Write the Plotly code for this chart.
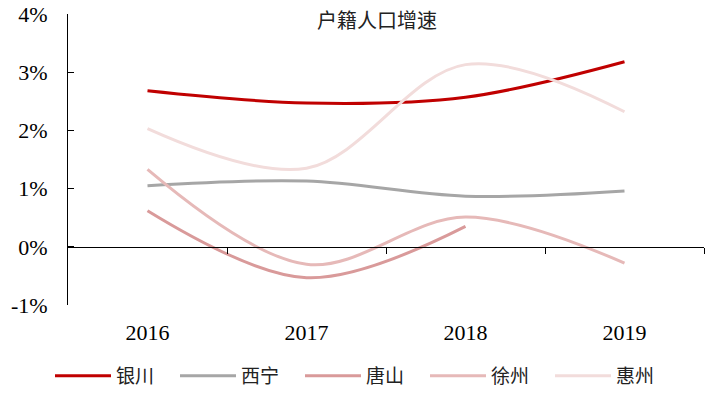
import plotly.graph_objects as go

years = ["2016", "2017", "2018", "2019"]
yinchuan = [2.68, 2.47, 2.57, 3.18]
xining = [1.05, 1.13, 0.87, 0.96]
tangshan = [0.62, -0.53, 0.35, None]
xuzhou = [1.33, -0.30, 0.51, -0.28]
huizhou = [2.03, 1.35, 3.13, 2.32]

names = ["银川", "西宁", "唐山", "徐州", "惠州"]
series = [yinchuan, xining, tangshan, xuzhou, huizhou]
colors = ["#C00000", "#A6A6A6", "#D99A9A", "#E6B9B8", "#F2DCDB"]
yticks = [-1, 0, 1, 2, 3, 4]
ytick_labels = ["-1%", "0%", "1%", "2%", "3%", "4%"]
title = "户籍人口增速"

serif = "Liberation Serif, Times New Roman, serif"
cjk = "Noto Sans CJK SC"

fig = go.Figure()
for n, s, c in zip(names, series, colors):
    fig.add_trace(go.Scatter(
        x=years, y=s,
        mode="lines", name=n,
        line=dict(color=c, width=3, shape="spline", smoothing=1.0),
    ))

# overlay axis drawn at y=0 with boundary ticks
fig.add_trace(go.Scatter(x=[-0.5, 3.5], y=[None, None], xaxis="x2", yaxis="y",
                         showlegend=False, hoverinfo="skip", mode="lines"))

fig.update_layout(
    width=716, height=398,
    margin=dict(l=68, r=12, t=14, b=93, autoexpand=False),
    paper_bgcolor="white", plot_bgcolor="white",
    showlegend=True,
    legend=dict(orientation="h", x=-18 / 636, xanchor="left",
                y=-71 / 291, yanchor="middle",
                font=dict(family=cjk, size=19, color="#222"),
                itemwidth=56, entrywidth=54, tracegroupgap=0),
    xaxis=dict(type="category", categoryarray=years, range=[-0.5, 3.5],
               showline=False, showgrid=False, zeroline=False, ticks="",
               tickfont=dict(family=serif, size=22, color="black"),
               ticklabelstandoff=12),
    xaxis2=dict(overlaying="x", anchor="free", position=0.2, range=[-0.5, 3.5],
                showline=True, linecolor="black", linewidth=1,
                ticks="outside", ticklen=6, tickcolor="black", tickwidth=1,
                tickvals=[0.5, 1.5, 2.5, 3.5], showticklabels=False,
                showgrid=False, zeroline=False),
    yaxis=dict(range=[-1, 4], tickvals=yticks, ticktext=ytick_labels,
               showgrid=False, zeroline=False,
               showline=True, linecolor="black", linewidth=1,
               ticks="inside", ticklen=6, tickcolor="black",
               tickfont=dict(family=serif, size=22, color="black"),
               ticklabelstandoff=15),
    annotations=[dict(text=title, x=(377 - 68) / 636, y=1 + 11 / 291,
                      xref="paper", yref="paper",
                      xanchor="center", yanchor="top", showarrow=False,
                      font=dict(family=cjk, size=20, color="#222"))],
)

fig.write_html("out.html", config={"displayModeBar": False},
               post_script="document.body.style.margin='0';document.body.style.overflow='hidden';")
